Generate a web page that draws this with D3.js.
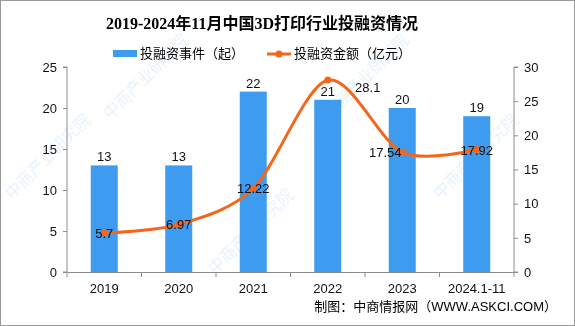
<!DOCTYPE html>
<html>
<head>
<meta charset="utf-8">
<script src="https://cdn.jsdelivr.net/npm/d3@7"></script>
<style>
  body { margin: 0; background: #fff; }
  svg { display: block; }
  text { font-family: "Liberation Sans", "Noto Sans CJK SC", sans-serif; }
</style>
</head>
<body>
<svg width="575" height="326"></svg>
<script>
// data
const years = ["2019", "2020", "2021", "2022", "2023", "2024.1-11"];
const deals = [13, 13, 22, 21, 20, 19];          // 投融资事件（起）
const amount = [5.7, 6.97, 12.22, 28.1, 17.54, 17.92]; // 投融资金额（亿元）
const leftTicks = [0, 5, 10, 15, 20, 25];
const rightTicks = [0, 5, 10, 15, 20, 25, 30];

const svg = d3.select("svg"),
  width = +svg.attr("width"),
  height = +svg.attr("height");

const margin = { top: 67, right: 61, bottom: 54, left: 67 };
const blue = "#3d9cf0", orange = "#f4661b", axisCol = "#8c8c8c";

// frame
svg.append("rect")
  .attr("x", 0.5).attr("y", 0.5)
  .attr("width", width - 1).attr("height", height - 1)
  .attr("fill", "#fff").attr("stroke", "#999");

// faint watermarks
const wm = svg.append("g").attr("fill", "#9cc7ee").attr("opacity", 0.25)
  .style("font-size", "16px").style("font-family", "Noto Sans CJK SC");
[[12, 200], [215, 275], [440, 200], [330, 120], [110, 120]].forEach(p => {
  wm.append("text")
    .attr("transform", `translate(${p[0]},${p[1]}) rotate(-45)`)
    .text("中商产业研究院");
});

// scales
const x = d3.scaleBand()
  .domain(years)
  .range([margin.left, width - margin.right]);

const yL = d3.scaleLinear().domain([0, 25]).range([height - margin.bottom, margin.top]);
const yR = d3.scaleLinear().domain([0, 30]).range([height - margin.bottom, margin.top]);

// title
svg.append("text")
  .attr("x", 262).attr("y", 29)
  .attr("text-anchor", "middle")
  .style("font-family", "'Liberation Serif', 'Noto Sans CJK SC', serif")
  .style("font-weight", "bold")
  .style("font-size", "16px")
  .text("2019-2024年11月中国3D打印行业投融资情况");

// legend
const legend = svg.append("g").style("font-size", "13px");
legend.append("rect").attr("x", 113).attr("y", 50).attr("width", 24).attr("height", 7).attr("fill", blue);
legend.append("text").attr("x", 140).attr("y", 58).text("投融资事件（起）");
legend.append("line").attr("x1", 267).attr("x2", 291).attr("y1", 54).attr("y2", 54)
  .attr("stroke", orange).attr("stroke-width", 3);
legend.append("circle").attr("cx", 279).attr("cy", 54).attr("r", 3.5).attr("fill", orange);
legend.append("text").attr("x", 294).attr("y", 58).text("投融资金额（亿元）");

// axes
const axL = svg.append("g")
  .attr("transform", `translate(${margin.left},0)`)
  .call(d3.axisLeft(yL).tickValues(leftTicks).tickSize(4).tickPadding(6));
const axR = svg.append("g")
  .attr("transform", `translate(${width - margin.right},0)`)
  .call(d3.axisRight(yR).tickValues(rightTicks).tickSize(4).tickPadding(6));
const axB = svg.append("g")
  .attr("transform", `translate(0,${height - margin.bottom})`)
  .call(d3.axisBottom(x).tickSize(0).tickPadding(12));

// category boundary ticks on bottom axis
axB.selectAll(".bound")
  .data(d3.range(years.length + 1))
  .join("line")
  .attr("class", "bound")
  .attr("x1", i => margin.left + i * x.step())
  .attr("x2", i => margin.left + i * x.step())
  .attr("y1", 0).attr("y2", 5)
  .attr("stroke", axisCol);

[axL, axR, axB].forEach(a => {
  a.select(".domain").attr("stroke", axisCol);
  a.selectAll(".tick line").attr("stroke", axisCol);
  a.selectAll("text").attr("fill", "#111").style("font-size", "13px")
    .style("font-family", "'Liberation Sans', sans-serif");
});
axL.select(".domain").attr("d", `M-4,${yL(25)}H0V${yL(0)}H-4`);
axR.select(".domain").attr("d", `M4,${yR(30)}H0V${yR(0)}H4`);

// bars
const barW = 27;
svg.append("g")
  .selectAll("rect")
  .data(deals)
  .join("rect")
  .attr("x", (d, i) => x(years[i]) + x.bandwidth() / 2 - barW / 2)
  .attr("width", barW)
  .attr("y", d => yL(d))
  .attr("height", d => yL(0) - yL(d))
  .attr("fill", blue);

// bar labels
svg.append("g")
  .style("font-size", "13px")
  .selectAll("text")
  .data(deals)
  .join("text")
  .attr("x", (d, i) => x(years[i]) + x.bandwidth() / 2)
  .attr("y", d => yL(d) - 4)
  .attr("text-anchor", "middle")
  .attr("fill", "#111")
  .text(d => d);

// line
const cx = (d, i) => x(years[i]) + x.bandwidth() / 2;
const line = d3.line()
  .x(cx)
  .y(d => yR(d))
  .curve(d3.curveCardinal.tension(0.1));

svg.append("path")
  .datum(amount)
  .attr("d", line)
  .attr("fill", "none")
  .attr("stroke", orange)
  .attr("stroke-width", 3);

svg.append("g")
  .selectAll("circle")
  .data(amount)
  .join("circle")
  .attr("cx", cx)
  .attr("cy", d => yR(d))
  .attr("r", 3.5)
  .attr("fill", orange);

// line labels (a couple nudged aside like the original)
const nudge = { 3: 40, 4: -17 };
svg.append("g")
  .style("font-size", "13px")
  .selectAll("text")
  .data(amount)
  .join("text")
  .attr("x", (d, i) => cx(d, i) + (nudge[i] || 0))
  .attr("y", (d, i) => yR(d) + (i === 3 ? 12 : 5))
  .attr("text-anchor", "middle")
  .attr("fill", "#111")
  .text(d => d);

// footer
svg.append("text")
  .attr("x", 557).attr("y", 311)
  .attr("text-anchor", "end")
  .style("font-size", "13px")
  .text("制图：中商情报网（WWW.ASKCI.COM）");
</script>
</body>
</html>
